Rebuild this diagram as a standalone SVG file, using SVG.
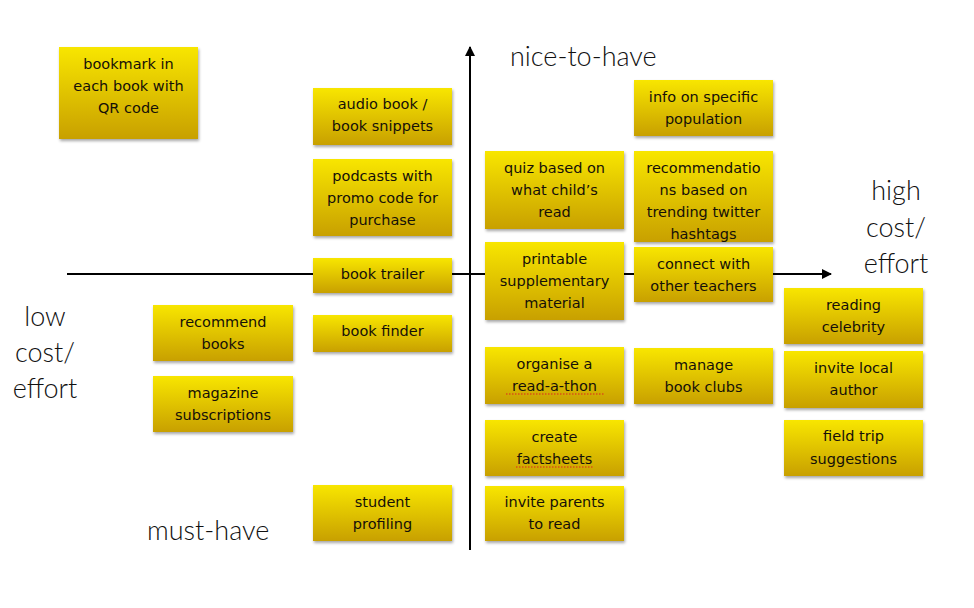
<svg xmlns="http://www.w3.org/2000/svg" width="974" height="608" viewBox="0 0 974 608">
<defs>
  <linearGradient id="sticky" x1="0" y1="0" x2="0" y2="1">
    <stop offset="0" stop-color="#f8e600"/>
    <stop offset="1" stop-color="#c8a000"/>
  </linearGradient>
  <filter id="shadow" x="-10%" y="-10%" width="125%" height="135%">
    <feDropShadow dx="1" dy="2" stdDeviation="1.5" flood-color="#000" flood-opacity="0.35"/>
  </filter>
  <marker id="arrow" viewBox="0 0 10 10" refX="9" refY="5" markerWidth="5" markerHeight="5" orient="auto" markerUnits="strokeWidth">
    <path d="M0,0 L10,5 L0,10 Z" fill="#000"/>
  </marker>
  <clipPath id="clipRec"><rect x="634" y="151" width="139" height="91"/></clipPath>
</defs>
<style>
  .note rect { fill: url(#sticky); filter: url(#shadow); }
  .note text { font-family: "DejaVu Sans", "Noto Sans", sans-serif; font-size: 14.5px; fill: #151008; text-anchor: middle; }
  .axis { stroke: #000; stroke-width: 2; fill: none; }
  .lbl { font-family: "Lato", "Open Sans", "Liberation Sans", sans-serif; font-weight: 300; font-size: 27px; fill: #111; }
  .mid { text-anchor: middle; }
  .squiggle { stroke: #e02020; stroke-width: 1.2; stroke-dasharray: 1.5 1.5; fill: none; }
</style>

<g id="connectors">
  <line class="axis" x1="67" y1="274" x2="831" y2="274" marker-end="url(#arrow)"/>
  <line class="axis" x1="470" y1="550" x2="470" y2="47" marker-end="url(#arrow)"/>
</g>

<g id="axis-labels">
  <text class="lbl" x="510" y="66">nice-to-have</text>
  <text class="lbl" x="147" y="540">must-have</text>
  <text class="lbl mid" x="45" y="326">low</text>
  <text class="lbl mid" x="45" y="362">cost/</text>
  <text class="lbl mid" x="45" y="398">effort</text>
  <text class="lbl mid" x="896" y="200">high</text>
  <text class="lbl mid" x="896" y="237">cost/</text>
  <text class="lbl mid" x="896" y="273">effort</text>
</g>

<g id="n-bookmark" class="note">
  <rect x="59" y="47" width="139" height="92"/>
  <text x="128.5" y="69">bookmark in</text>
  <text x="128.5" y="91">each book with</text>
  <text x="128.5" y="113">QR code</text>
</g>
<g id="n-audio" class="note">
  <rect x="313" y="88" width="139" height="57"/>
  <text x="382.5" y="109">audio book /</text>
  <text x="382.5" y="131">book snippets</text>
</g>
<g id="n-podcasts" class="note">
  <rect x="313" y="159" width="139" height="77"/>
  <text x="382.5" y="181">podcasts with</text>
  <text x="382.5" y="203">promo code for</text>
  <text x="382.5" y="225">purchase</text>
</g>
<g id="n-trailer" class="note">
  <rect x="313" y="258" width="139" height="35"/>
  <text x="382.5" y="279">book trailer</text>
</g>
<g id="n-finder" class="note">
  <rect x="313" y="315" width="139" height="37"/>
  <text x="382.5" y="336">book finder</text>
</g>
<g id="n-recommend" class="note">
  <rect x="153" y="305" width="140" height="56"/>
  <text x="223" y="327">recommend</text>
  <text x="223" y="349">books</text>
</g>
<g id="n-magazine" class="note">
  <rect x="153" y="376" width="140" height="56"/>
  <text x="223" y="398">magazine</text>
  <text x="223" y="420">subscriptions</text>
</g>
<g id="n-student" class="note">
  <rect x="313" y="485" width="139" height="56"/>
  <text x="382.5" y="507">student</text>
  <text x="382.5" y="529">profiling</text>
</g>
<g id="n-quiz" class="note">
  <rect x="485" y="151" width="139" height="78"/>
  <text x="554.5" y="173">quiz based on</text>
  <text x="554.5" y="195">what child’s</text>
  <text x="554.5" y="217">read</text>
</g>
<g id="n-printable" class="note">
  <rect x="485" y="242" width="139" height="78"/>
  <text x="554.5" y="264">printable</text>
  <text x="554.5" y="286">supplementary</text>
  <text x="554.5" y="308">material</text>
</g>
<g id="n-organise" class="note">
  <rect x="485" y="347" width="139" height="57"/>
  <text x="554.5" y="369">organise a</text>
  <text x="554.5" y="391">read-a-thon</text>
  <line class="squiggle" x1="506" y1="394" x2="604" y2="394"/>
</g>
<g id="n-factsheets" class="note">
  <rect x="485" y="420" width="139" height="56"/>
  <text x="554.5" y="442">create</text>
  <text x="554.5" y="464">factsheets</text>
  <line class="squiggle" x1="516" y1="467" x2="593" y2="467"/>
</g>
<g id="n-parents" class="note">
  <rect x="485" y="486" width="139" height="55"/>
  <text x="554.5" y="507">invite parents</text>
  <text x="554.5" y="529">to read</text>
</g>
<g id="n-info" class="note">
  <rect x="634" y="80" width="139" height="56"/>
  <text x="703.5" y="102">info on specific</text>
  <text x="703.5" y="124">population</text>
</g>
<g id="n-recommendations" class="note">
  <rect x="634" y="151" width="139" height="91"/>
  <g clip-path="url(#clipRec)">
    <text x="703.5" y="173">recommendatio</text>
    <text x="703.5" y="195">ns based on</text>
    <text x="703.5" y="217">trending twitter</text>
    <text x="703.5" y="239">hashtags</text>
  </g>
</g>
<g id="n-connect" class="note">
  <rect x="634" y="247" width="139" height="55"/>
  <text x="703.5" y="269">connect with</text>
  <text x="703.5" y="291">other teachers</text>
</g>
<g id="n-manage" class="note">
  <rect x="634" y="348" width="139" height="56"/>
  <text x="703.5" y="370">manage</text>
  <text x="703.5" y="392">book clubs</text>
</g>
<g id="n-celebrity" class="note">
  <rect x="784" y="288" width="139" height="56"/>
  <text x="853.5" y="310">reading</text>
  <text x="853.5" y="332">celebrity</text>
</g>
<g id="n-author" class="note">
  <rect x="784" y="351" width="139" height="57"/>
  <text x="853.5" y="373">invite local</text>
  <text x="853.5" y="395">author</text>
</g>
<g id="n-fieldtrip" class="note">
  <rect x="784" y="420" width="139" height="56"/>
  <text x="853.5" y="441">field trip</text>
  <text x="853.5" y="464">suggestions</text>
</g>
</svg>
